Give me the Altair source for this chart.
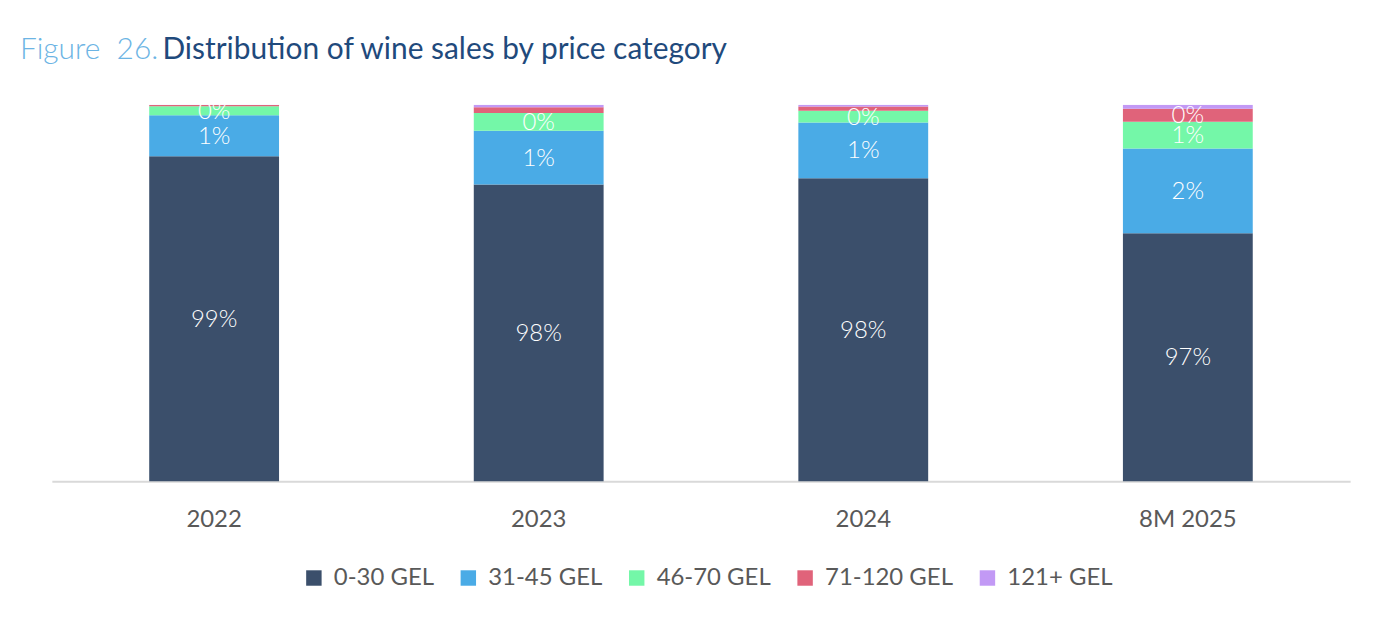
import altair as alt
import pandas as pd

years = ["2022", "2023", "2024", "8M 2025"]
categories = ["0-30 GEL", "31-45 GEL", "46-70 GEL", "71-120 GEL", "121+ GEL"]
share_0_30 = [98.63, 97.88, 98.05, 96.59]
share_31_45 = [1.09, 1.43, 1.48, 2.25]
share_46_70 = [0.24, 0.47, 0.31, 0.71]
share_71_120 = [0.03, 0.15, 0.11, 0.34]
share_121 = [0.01, 0.07, 0.05, 0.11]
colors = ["#3b4f6b", "#4aabe6", "#74f7a8", "#e0637a", "#c299f5"]

series = [share_0_30, share_31_45, share_46_70, share_71_120, share_121]
AXIS_MIN = 90

rows = []
for yi, yr in enumerate(years):
    start = 0.0
    for ci, cat in enumerate(categories):
        v = series[ci][yi]
        end = start + v
        rows.append({
            "year": yr, "cat": cat, "order": ci, "value": v,
            "start": start, "end": end,
            "mid": (max(start, AXIS_MIN) + end) / 2,
            "label": f"{round(v):.0f}%",
        })
        start = end
df = pd.DataFrame(rows)

FONT = "Lato"

x_enc = alt.X("year:N", sort=years, title=None,
              scale=alt.Scale(paddingInner=0.6, paddingOuter=0.3),
              axis=alt.Axis(labelAngle=0, labelFontSize=24, labelColor="#595959",
                            labelFont=FONT, labelPadding=26, ticks=False,
                            domainColor="#d9d9d9", domainWidth=2, grid=False))
y_scale = alt.Scale(domain=[AXIS_MIN, 100], zero=False, nice=False)

bars = alt.Chart(df).mark_bar(clip=True).encode(
    x=x_enc,
    y=alt.Y("start:Q", scale=y_scale, axis=None),
    y2="end:Q",
    color=alt.Color("cat:N", sort=categories,
                    scale=alt.Scale(domain=categories, range=colors),
                    legend=alt.Legend(title=None, orient="none", direction="horizontal",
                                      legendX=251, legendY=463,
                                      symbolType="square", symbolSize=240,
                                      symbolStrokeWidth=0,
                                      labelFontSize=24, labelColor="#595959",
                                      labelFont=FONT, columnPadding=22,
                                      labelOffset=8)),
    order=alt.Order("order:Q"),
)

labels = alt.Chart(df).transform_filter("datum.value >= 0.2").mark_text(
    color="white", fontSize=24, font=FONT, fontWeight=300, baseline="middle", dy=1
).encode(
    x=alt.X("year:N", sort=years),
    y=alt.Y("mid:Q", scale=y_scale),
    text="label:N",
)

title1 = alt.Chart(pd.DataFrame({"t": ["Figure\u00a0 26."]})).mark_text(
    align="left", baseline="alphabetic", fontSize=30, font=FONT, fontWeight=300,
    color="#6cb4e4"
).encode(text="t:N", x=alt.value(-32), y=alt.value(-46))

title2 = alt.Chart(pd.DataFrame({"t": ["Distribution of wine sales by price category"]})).mark_text(
    align="left", baseline="alphabetic", fontSize=30, font=FONT, fontWeight=400,
    color="#1f4a7c"
).encode(text="t:N", x=alt.value(111), y=alt.value(-46))

chart = alt.layer(bars, labels, title1, title2).properties(
    width=1303, height=378,
    autosize=alt.AutoSizeParams(type="none"),
    padding={"left": 44, "top": 96, "right": 34, "bottom": 120},
).configure_view(stroke=None)

chart.save("out.html", embed_options={"renderer": "svg", "actions": False})
